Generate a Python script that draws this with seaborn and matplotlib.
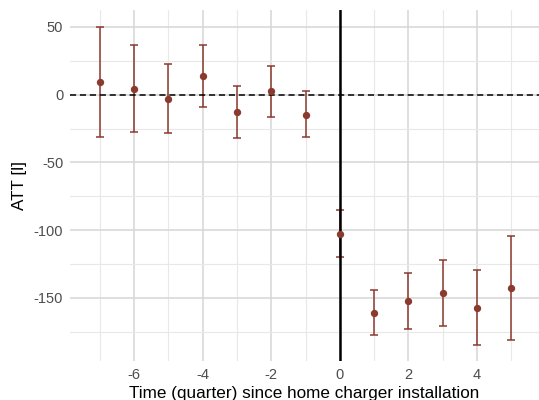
import matplotlib
matplotlib.use("Agg")
import matplotlib.pyplot as plt
from matplotlib.ticker import MultipleLocator
import numpy as np
import pandas as pd
import seaborn as sns

# Event-study estimates relative to home charger installation
quarters = [-7, -6, -5, -4, -3, -2, -1, 0, 1, 2, 3, 4, 5]
att = [9.4, 4.4, -3.2, 13.8, -12.8, 2.4, -14.7, -102.5, -160.8, -152.4, -146.2, -157.3, -142.8]
ci_low = [-31.0, -27.8, -28.5, -9.1, -31.7, -16.7, -31.5, -120.0, -177.5, -173.0, -170.6, -185.0, -181.2]
ci_high = [50.0, 36.6, 22.3, 36.6, 6.1, 21.2, 2.4, -85.0, -143.8, -131.3, -121.9, -129.6, -104.0]

df = pd.DataFrame({"quarter": quarters, "att": att, "lo": ci_low, "hi": ci_high})

sns.set_theme(style="white")
plt.rcParams["font.family"] = ["Liberation Sans", "DejaVu Sans"]
plt.rcParams["axes.unicode_minus"] = False

point_color = "#8B3A2E"

fig = plt.figure(figsize=(5.39, 4.0), dpi=100)
ax = fig.add_axes([0.130, 0.0975, 0.870, 0.8775])

# grid: major at labelled ticks, minor halfway between
ax.xaxis.set_major_locator(MultipleLocator(2))
ax.xaxis.set_minor_locator(MultipleLocator(1))
ax.yaxis.set_major_locator(MultipleLocator(50))
ax.yaxis.set_minor_locator(MultipleLocator(25))
ax.grid(which="major", color="#d6d6d6", linewidth=1.1, zorder=0)
ax.grid(which="minor", color="#e8e8e8", linewidth=0.8, zorder=0)
ax.set_axisbelow(True)

ax.errorbar(df["quarter"], df["att"],
            yerr=[df["att"] - df["lo"], df["hi"] - df["att"]],
            fmt="none", ecolor=point_color, elinewidth=1.1,
            capsize=3.2, capthick=1.1, zorder=2)

ax.axhline(0, color="black", linestyle=(0, (4, 2.5)), linewidth=1.1, zorder=3)
ax.axvline(0, color="black", linewidth=1.8, zorder=3)

sns.scatterplot(data=df, x="quarter", y="att", ax=ax, color=point_color,
                s=28, edgecolor=point_color, linewidth=0, zorder=4)

ax.set_xlim(-7.87, 5.81)
ax.set_ylim(-196.5, 62.5)
ax.set_xticks([-6, -4, -2, 0, 2, 4])
ax.set_yticks([50, 0, -50, -100, -150])

for s in ax.spines.values():
    s.set_visible(False)
ax.tick_params(which="both", length=0)
ax.tick_params(axis="both", labelsize=10.5, labelcolor="#4d4d4d")
ax.tick_params(axis="x", pad=5)
ax.tick_params(axis="y", pad=5)

ax.set_xlabel("Time (quarter) since home charger installation", fontsize=12.3,
              color="black", labelpad=3)
ax.set_ylabel("ATT [l]", fontsize=12.3, color="black", labelpad=5)

fig.savefig("out.png", dpi=100)
